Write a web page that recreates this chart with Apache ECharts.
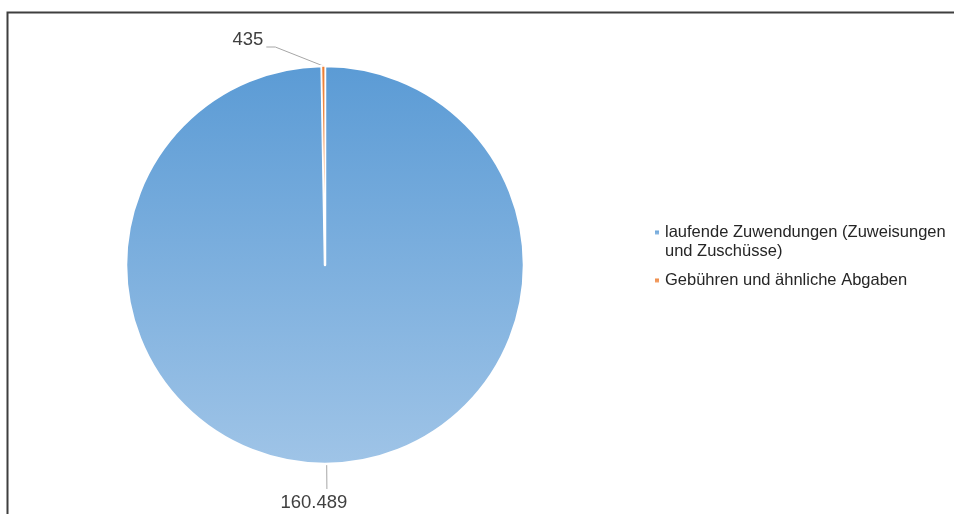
<!DOCTYPE html>
<html>
<head>
<meta charset="utf-8">
<script src="https://cdn.jsdelivr.net/npm/echarts@6/dist/echarts.min.js"></script>
<style>
  html, body { margin: 0; padding: 0; background: #fff; }
  #chart { width: 954px; height: 514px; }
</style>
</head>
<body>
<div id="chart"></div>
<script>
// Daten aus dem Diagramm
const categories = ['laufende Zuwendungen (Zuweisungen und Zuschüsse)', 'Gebühren und ähnliche Abgaben']
const values = [160489, 435]
const valueLabels = ['160.489', '435']

const chart = echarts.init(document.getElementById('chart'))

const gradient = (top, bottom) => new echarts.graphic.LinearGradient(0, 0, 0, 1, [
  { offset: 0, color: top },
  { offset: 1, color: bottom }
])

const sliceColors = [
  gradient('#5b9bd5', '#9fc4e7'),
  gradient('#ed7d31', '#f4b183')
]
const sliceBorders = [2.5, 1.2]

const option = {
  animation: false,
  graphic: [
    {
      type: 'rect',
      shape: { x: 7.5, y: 12.5, width: 1000, height: 600 },
      style: { fill: 'none', stroke: '#3f3f3f', lineWidth: 2 }
    }
  ],
  legend: {
    orient: 'vertical',
    left: 648,
    top: 199,
    itemWidth: 6,
    itemHeight: 6,
    itemGap: 10,
    icon: 'rect',
    textStyle: {
      fontFamily: 'Liberation Sans',
      fontSize: 16.5,
      color: '#262626',
      width: 288,
      overflow: 'break',
      lineHeight: 19
    },
    // Leerzeile davor, damit die erste Zeile auf Höhe des Markers steht
    formatter: name => name === categories[0] ? '\n' + name : name,
    data: categories
  },
  series: [
    {
      type: 'pie',
      center: [325, 265],
      radius: 199,
      startAngle: 90,
      clockwise: true,
      avoidLabelOverlap: false,
      itemStyle: { borderColor: '#fff' },
      label: {
        show: true,
        fontFamily: 'Liberation Sans',
        fontSize: 18.5,
        color: '#404040',
        formatter: p => valueLabels[p.dataIndex]
      },
      labelLine: {
        show: true,
        length: 25,
        length2: 10,
        lineStyle: { color: '#a6a6a6', width: 1 }
      },
      labelLayout: function (params) {
        const pts = params.labelLinePoints
        if (!pts) return {}
        if (params.dataIndex === 0) {
          const end = pts[1]
          return {
            x: end[0] - 13,
            y: end[1] + 4,
            align: 'center',
            verticalAlign: 'top',
            labelLinePoints: [pts[0], end, end]
          }
        }
        const start = pts[0]
        const mid = [start[0] - 48, start[1] - 19]
        const end = [mid[0] - 9, mid[1]]
        return {
          x: end[0] - 3,
          y: end[1] - 7,
          align: 'right',
          verticalAlign: 'middle',
          labelLinePoints: [start, mid, end]
        }
      },
      data: categories.map((name, i) => ({
        name: name,
        value: values[i],
        itemStyle: { color: sliceColors[i], borderWidth: sliceBorders[i] }
      }))
    }
  ]
}

chart.setOption(option)
</script>
</body>
</html>
